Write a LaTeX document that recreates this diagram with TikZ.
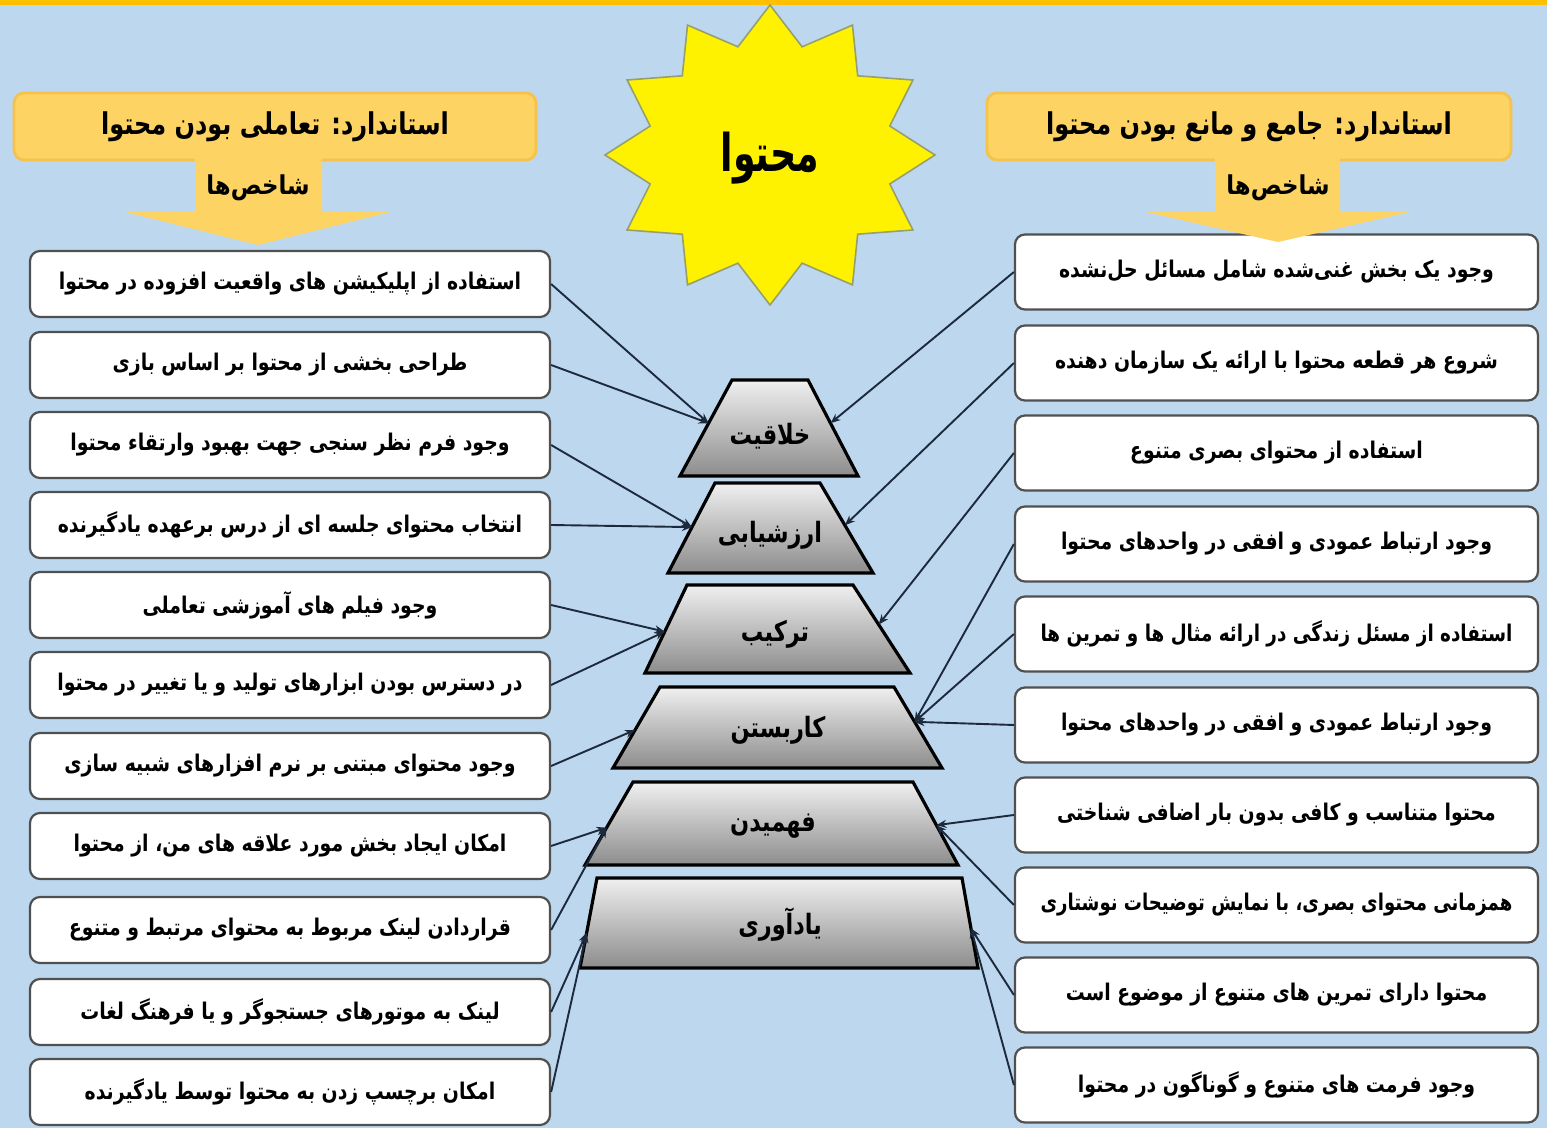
\documentclass[tikz,border=0pt]{standalone}
\usepackage{graphicx}
\usepackage{fontspec}
\newfontfamily\arabicfont[Script=Arabic]{DejaVu Sans}
\TeXXeTstate=1
\usetikzlibrary{arrows.meta,calc}
\definecolor{bgblue}{RGB}{189,215,238}
\definecolor{goldfill}{RGB}{253,212,100}
\definecolor{goldedge}{RGB}{245,195,75}
\definecolor{topline}{RGB}{255,192,0}
\definecolor{linkcol}{RGB}{28,42,60}
\definecolor{boxedge}{RGB}{80,80,80}
\definecolor{starborder}{RGB}{150,160,110}
\newcommand{\fa}[1]{{\arabicfont\bfseries #1}}
\newcommand{\cfa}[2]{\scalebox{#1}[1]{\fa{#2}}}
\newsavebox\faboxsave
\newcommand{\fitfa}[1]{\sbox\faboxsave{\cfa{0.82}{#1}}\ifdim\wd\faboxsave>236pt\resizebox{236pt}{\height}{\usebox\faboxsave}\else\usebox\faboxsave\fi}
\begin{document}
\begin{tikzpicture}[x=0.5pt,y=-0.5pt,
  leftbox/.style={draw=boxedge, line width=1.1pt, fill=white, rounded corners=5pt,
    minimum width=260pt, minimum height=33pt, inner sep=0pt, font=\fontsize{11.5}{13}\selectfont},
  rightbox/.style={leftbox, minimum width=261.5pt, minimum height=37.5pt},
  link/.style={draw=linkcol, line width=0.95pt, -{Stealth[length=5pt,width=4pt]}},
  trapfill/.style={top color=black!6, bottom color=black!45},
  trapline/.style={draw=black, line width=1.6pt, line join=miter},
  traptext/.style={font=\fontsize{14}{16}\selectfont, inner sep=0pt},
  header/.style={fill=goldfill, draw=goldedge, line width=1.4pt, rounded corners=5pt,
    minimum height=33.5pt, inner sep=0pt, font=\fontsize{15}{17}\selectfont},
  indicarrow/.style={fill=goldfill},
  indictext/.style={font=\fontsize{13}{15}\selectfont, inner sep=0pt},
  startext/.style={font=\fontsize{26}{30}\selectfont, inner sep=0pt}
]
\useasboundingbox (0,0) rectangle (1547,1128);
\fill[bgblue] (0,0) rectangle (1547,1128);
\fill[topline] (0,0) rectangle (1547,5);

% star
\filldraw[fill=yellow, draw=starborder, line width=0.8pt]
  plot[samples at={0,...,23}] ({770+ifthenelse(mod(\x,2)==0,165,124)*cos(90+15*\x)},
                                {155-ifthenelse(mod(\x,2)==0,150,112)*sin(90+15*\x)}) -- cycle;
\node[startext] (star) at (770,158) {\cfa{0.7}{\beginR محتوا\endR}};

% headers
\node[header, minimum width=261pt] (H1) at (275,126.5) {\cfa{0.8}{\beginR استاندارد: تعاملی بودن محتوا\endR}};
\node[header, minimum width=262pt] (H2) at (1249,126.5) {\cfa{0.8}{\beginR استاندارد: جامع و مانع بودن محتوا\endR}};

% left boxes
\node[leftbox] (L1) at (290,284) {\fitfa{\beginR استفاده از اپلیکیشن های واقعیت افزوده در محتوا\endR}};
\node[leftbox] (L2) at (290,365) {\fitfa{\beginR طراحی بخشی از محتوا بر اساس بازی\endR}};
\node[leftbox] (L3) at (290,445) {\fitfa{\beginR وجود فرم نظر سنجی جهت بهبود وارتقاء محتوا\endR}};
\node[leftbox] (L4) at (290,525) {\fitfa{\beginR انتخاب محتوای جلسه ای از درس برعهده یادگیرنده\endR}};
\node[leftbox] (L5) at (290,605) {\fitfa{\beginR وجود فیلم های آموزشی تعاملی\endR}};
\node[leftbox] (L6) at (290,685) {\fitfa{\beginR در دسترس بودن ابزارهای تولید و یا تغییر در محتوا\endR}};
\node[leftbox] (L7) at (290,766) {\fitfa{\beginR وجود محتوای مبتنی بر نرم افزارهای شبیه سازی\endR}};
\node[leftbox] (L8) at (290,846) {\fitfa{\beginR امکان ایجاد بخش مورد علاقه های من، از محتوا\endR}};
\node[leftbox] (L9) at (290,930) {\fitfa{\beginR قراردادن لینک مربوط به محتوای مرتبط و متنوع\endR}};
\node[leftbox] (L10) at (290,1012) {\fitfa{\beginR لینک به موتورهای جستجوگر و یا فرهنگ لغات\endR}};
\node[leftbox] (L11) at (290,1092) {\fitfa{\beginR امکان برچسپ زدن به محتوا توسط یادگیرنده\endR}};

% right boxes
\node[rightbox] (R1) at (1276.5,272) {\fitfa{\beginR وجود یک بخش غنی‌شده شامل مسائل حل‌نشده\endR}};
\node[rightbox] (R2) at (1276.5,363) {\fitfa{\beginR شروع هر قطعه محتوا با ارائه یک سازمان دهنده\endR}};
\node[rightbox] (R3) at (1276.5,453) {\fitfa{\beginR استفاده از محتوای بصری متنوع\endR}};
\node[rightbox] (R4) at (1276.5,544) {\fitfa{\beginR وجود ارتباط عمودی و افقی در واحدهای محتوا\endR}};
\node[rightbox] (R5) at (1276.5,634) {\fitfa{\beginR استفاده از مسئل زندگی در ارائه مثال ها و تمرین ها\endR}};
\node[rightbox] (R6) at (1276.5,725) {\fitfa{\beginR وجود ارتباط عمودی و افقی در واحدهای محتوا\endR}};
\node[rightbox] (R7) at (1276.5,815) {\fitfa{\beginR محتوا متناسب و کافی بدون بار اضافی شناختی\endR}};
\node[rightbox] (R8) at (1276.5,905) {\fitfa{\beginR همزمانی محتوای بصری، با نمایش توضیحات نوشتاری\endR}};
\node[rightbox] (R9) at (1276.5,995) {\fitfa{\beginR محتوا دارای تمرین های متنوع از موضوع است\endR}};
\node[rightbox] (R10) at (1276.5,1085) {\fitfa{\beginR وجود فرمت های متنوع و گوناگون در محتوا\endR}};

% indicator arrows
\fill[indicarrow] (195,158) -- (322,158) -- (322,212) -- (390,212) -- (258,245) -- (125,212) -- (195,212) -- cycle;
\node[indictext] (S1) at (258,188) {\cfa{0.88}{\beginR شاخص‌ها\endR}};
\fill[indicarrow] (1215,158) -- (1340,158) -- (1340,212) -- (1410,212) -- (1278,242) -- (1146,212) -- (1215,212) -- cycle;
\node[indictext] (S2) at (1278,188) {\cfa{0.88}{\beginR شاخص‌ها\endR}};

% pyramid
\coordinate (P1tl) at (732,380); \coordinate (P1tr) at (808,380); \coordinate (P1br) at (858,476); \coordinate (P1bl) at (680,476);
\coordinate (P2tl) at (715,483); \coordinate (P2tr) at (820,483); \coordinate (P2br) at (873,573); \coordinate (P2bl) at (668,573);
\coordinate (P3tl) at (687,585); \coordinate (P3tr) at (853,585); \coordinate (P3br) at (910,673); \coordinate (P3bl) at (645,673);
\coordinate (P4tl) at (660,687); \coordinate (P4tr) at (894,687); \coordinate (P4br) at (942,768); \coordinate (P4bl) at (613,768);
\coordinate (P5tl) at (633,782); \coordinate (P5tr) at (913,782); \coordinate (P5br) at (958,865); \coordinate (P5bl) at (585,865);
\coordinate (P6tl) at (597,878); \coordinate (P6tr) at (962,878); \coordinate (P6br) at (978,968); \coordinate (P6bl) at (580,968);
\foreach \i in {1,...,6}{
  \shade[trapfill] (P\i tl) -- (P\i tr) -- (P\i br) -- (P\i bl) -- cycle;
  \draw[trapline] (P\i tl) -- (P\i tr) -- (P\i br) -- (P\i bl) -- cycle;
}
\node[traptext] (T1) at (770,436) {\cfa{0.8}{\beginR خلاقیت\endR}};
\node[traptext] (T2) at (770,535) {\cfa{0.8}{\beginR ارزشیابی\endR}};
\node[traptext] (T3) at (775,634) {\cfa{0.8}{\beginR ترکیب\endR}};
\node[traptext] (T4) at (778,730) {\cfa{0.8}{\beginR کاربستن\endR}};
\node[traptext] (T5) at (773,826) {\cfa{0.8}{\beginR فهمیدن\endR}};
\node[traptext] (T6) at (780,925) {\cfa{0.8}{\beginR یادآوری\endR}};

% connector end points on trapezoid edges
\coordinate (A1L) at ($(P1tl)!0.45!(P1bl)$); \coordinate (A1R) at ($(P1tr)!0.45!(P1br)$);
\coordinate (A2L) at ($(P2tl)!0.49!(P2bl)$); \coordinate (A2R) at ($(P2tr)!0.47!(P2br)$);
\coordinate (A3L) at ($(P3tl)!0.53!(P3bl)$); \coordinate (A3R) at ($(P3tr)!0.45!(P3br)$);
\coordinate (A4L) at ($(P4tl)!0.53!(P4bl)$); \coordinate (A4R) at ($(P4tr)!0.43!(P4br)$);
\coordinate (A5L) at ($(P5tl)!0.55!(P5bl)$); \coordinate (A5R) at ($(P5tr)!0.52!(P5br)$);
\coordinate (A6L) at ($(P6tl)!0.61!(P6bl)$); \coordinate (A6R) at ($(P6tr)!0.56!(P6br)$);

% connectors left
\draw[link] (L1.east) -- (A1L);
\draw[link] (L2.east) -- (A1L);
\draw[link] (L3.east) -- (A2L);
\draw[link] (L4.east) -- (A2L);
\draw[link] (L5.east) -- (A3L);
\draw[link] (L6.east) -- (A3L);
\draw[link] (L7.east) -- (A4L);
\draw[link] (L8.east) -- (A5L);
\draw[link] (L9.east) -- (A5L);
\draw[link] (L10.east) -- (A6L);
\draw[link] (L11.east) -- (A6L);
% connectors right
\draw[link] (R1.west) -- (A1R);
\draw[link] (R2.west) -- (A2R);
\draw[link] (R3.west) -- (A3R);
\draw[link] (R4.west) -- (A4R);
\draw[link] (R5.west) -- (A4R);
\draw[link] (R6.west) -- (A4R);
\draw[link] (R7.west) -- (A5R);
\draw[link] (R8.west) -- (A5R);
\draw[link] (R9.west) -- (A6R);
\draw[link] (R10.west) -- (A6R);
\end{tikzpicture}
\end{document}
